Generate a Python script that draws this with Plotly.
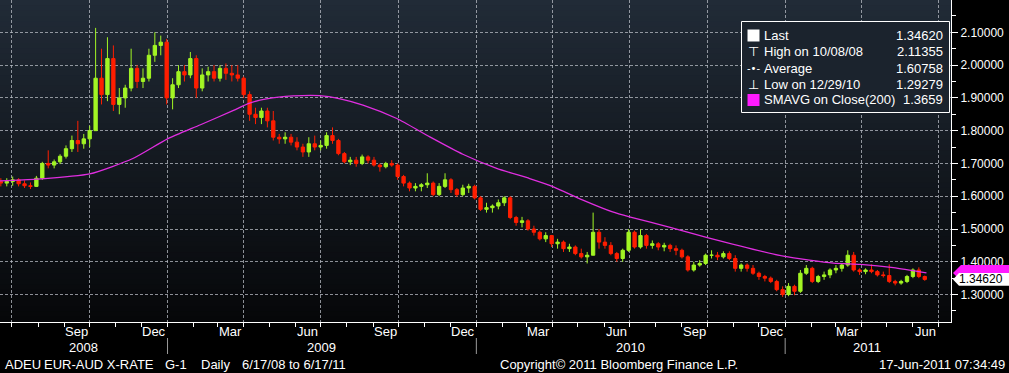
import plotly.graph_objects as go
import pandas as pd

# ---------------- data (weekly candles) ----------------
first_week = "2008-06-18"

open_ = [
    1.645, 1.640, 1.645, 1.650, 1.638, 1.632, 1.630, 1.655, 1.700, 1.695,
    1.705, 1.722, 1.745, 1.770, 1.760, 1.775, 1.800, 1.960, 1.910, 2.020,
    1.880, 1.900, 1.930, 1.990, 1.950, 1.960, 2.030, 2.060, 2.070, 1.900,
    1.940, 1.980, 1.970, 2.020, 1.930, 1.970, 1.980, 1.960, 1.990,
    1.975, 1.970, 1.960, 1.910, 1.850, 1.840, 1.860, 1.830, 1.780, 1.775,
    1.780, 1.765, 1.750, 1.735, 1.760, 1.750, 1.755, 1.785, 1.770, 1.730,
    1.705, 1.710, 1.700, 1.720, 1.710, 1.695, 1.690, 1.700, 1.695, 1.660,
    1.640, 1.625, 1.630, 1.635, 1.640, 1.605, 1.630, 1.650, 1.620, 1.605,
    1.625, 1.630, 1.595, 1.560, 1.565, 1.570, 1.580, 1.595, 1.535, 1.520,
    1.525, 1.500, 1.490, 1.470, 1.480, 1.455, 1.460, 1.440, 1.445, 1.425,
    1.415, 1.420, 1.490, 1.460, 1.450, 1.425, 1.410, 1.435, 1.490, 1.445,
    1.480, 1.450, 1.455, 1.445,
    1.450, 1.440, 1.435, 1.415, 1.375, 1.390, 1.395, 1.420, 1.420, 1.415,
    1.425, 1.410, 1.380, 1.390, 1.380, 1.365, 1.355, 1.350, 1.340, 1.315,
    1.300, 1.325, 1.310, 1.365, 1.380, 1.340, 1.355, 1.360, 1.375, 1.380,
    1.390, 1.420, 1.375, 1.370, 1.375, 1.370, 1.360, 1.358, 1.340, 1.335,
    1.340, 1.355, 1.375, 1.355,
]
high = [
    1.655, 1.655, 1.660, 1.655, 1.648, 1.642, 1.662, 1.705, 1.740, 1.712,
    1.728, 1.755, 1.785, 1.830, 1.790, 1.815, 2.11355, 2.050, 2.085, 2.060,
    1.930, 1.940, 2.050, 2.000, 1.990, 2.050, 2.100, 2.090, 2.080, 1.960,
    2.000, 2.000, 2.040, 2.030, 1.990, 1.995, 2.000, 2.000, 2.005,
    2.000, 2.000, 1.965, 1.920, 1.870, 1.870, 1.870, 1.860, 1.790, 1.795,
    1.790, 1.780, 1.760, 1.780, 1.785, 1.770, 1.795, 1.810, 1.775, 1.735,
    1.720, 1.720, 1.727, 1.725, 1.720, 1.700, 1.705, 1.710, 1.700, 1.665,
    1.645, 1.640, 1.640, 1.670, 1.645, 1.640, 1.670, 1.655, 1.625, 1.635,
    1.638, 1.635, 1.600, 1.580, 1.575, 1.590, 1.600, 1.600, 1.540, 1.537,
    1.530, 1.510, 1.495, 1.490, 1.482, 1.470, 1.465, 1.455, 1.450, 1.440,
    1.430, 1.550, 1.500, 1.475, 1.460, 1.430, 1.440, 1.500, 1.495, 1.500,
    1.485, 1.465, 1.460, 1.458,
    1.455, 1.450, 1.440, 1.420, 1.400, 1.405, 1.425, 1.435, 1.430, 1.432,
    1.432, 1.420, 1.395, 1.395, 1.390, 1.370, 1.360, 1.355, 1.345, 1.325,
    1.335, 1.330, 1.375, 1.390, 1.385, 1.360, 1.370, 1.380, 1.390, 1.395,
    1.435, 1.430, 1.380, 1.380, 1.392, 1.375, 1.370, 1.392, 1.345, 1.345,
    1.360, 1.380, 1.383, 1.358,
]
low = [
    1.630, 1.630, 1.632, 1.630, 1.625, 1.622, 1.628, 1.650, 1.685, 1.685,
    1.698, 1.715, 1.735, 1.735, 1.745, 1.750, 1.800, 1.880, 1.890, 1.860,
    1.850, 1.870, 1.920, 1.930, 1.930, 1.950, 2.010, 2.030, 1.880, 1.865,
    1.930, 1.950, 1.960, 1.900, 1.920, 1.950, 1.950, 1.950, 1.955,
    1.950, 1.950, 1.900, 1.830, 1.820, 1.820, 1.810, 1.770, 1.760, 1.760,
    1.755, 1.740, 1.720, 1.720, 1.740, 1.740, 1.745, 1.760, 1.725, 1.700,
    1.695, 1.690, 1.695, 1.700, 1.690, 1.675, 1.685, 1.690, 1.650, 1.630,
    1.615, 1.615, 1.615, 1.625, 1.600, 1.600, 1.625, 1.610, 1.598, 1.600,
    1.610, 1.590, 1.555, 1.550, 1.550, 1.560, 1.570, 1.530, 1.510, 1.505,
    1.495, 1.480, 1.465, 1.460, 1.445, 1.440, 1.430, 1.430, 1.420, 1.410,
    1.395, 1.420, 1.440, 1.440, 1.420, 1.400, 1.400, 1.430, 1.440, 1.440,
    1.440, 1.440, 1.435, 1.432,
    1.430, 1.420, 1.410, 1.370, 1.370, 1.385, 1.390, 1.410, 1.405, 1.410,
    1.405, 1.370, 1.370, 1.370, 1.360, 1.345, 1.340, 1.335, 1.310, 1.29279,
    1.295, 1.298, 1.305, 1.360, 1.335, 1.335, 1.345, 1.350, 1.365, 1.370,
    1.385, 1.370, 1.360, 1.362, 1.365, 1.355, 1.352, 1.335, 1.328, 1.330,
    1.335, 1.350, 1.350, 1.342,
]
close = [
    1.640, 1.645, 1.650, 1.638, 1.632, 1.630, 1.655, 1.700, 1.695, 1.705,
    1.722, 1.745, 1.770, 1.760, 1.775, 1.800, 1.960, 1.910, 2.020, 1.880,
    1.900, 1.930, 1.990, 1.950, 1.960, 2.030, 2.060, 2.070, 1.900, 1.940,
    1.980, 1.970, 2.020, 1.930, 1.970, 1.980, 1.960, 1.990, 1.975,
    1.970, 1.960, 1.910, 1.850, 1.840, 1.860, 1.830, 1.780, 1.775, 1.780,
    1.765, 1.750, 1.735, 1.760, 1.750, 1.755, 1.785, 1.770, 1.730, 1.705,
    1.710, 1.700, 1.720, 1.710, 1.695, 1.690, 1.700, 1.695, 1.660, 1.640,
    1.625, 1.630, 1.635, 1.640, 1.605, 1.630, 1.650, 1.620, 1.605, 1.625,
    1.630, 1.595, 1.560, 1.565, 1.570, 1.580, 1.595, 1.535, 1.520, 1.525,
    1.500, 1.490, 1.470, 1.480, 1.455, 1.460, 1.440, 1.445, 1.425, 1.415,
    1.420, 1.490, 1.460, 1.450, 1.425, 1.410, 1.435, 1.490, 1.445, 1.480,
    1.450, 1.455, 1.445, 1.450,
    1.440, 1.435, 1.415, 1.375, 1.390, 1.395, 1.420, 1.420, 1.415, 1.425,
    1.410, 1.380, 1.390, 1.380, 1.365, 1.355, 1.350, 1.340, 1.315, 1.300,
    1.325, 1.310, 1.365, 1.380, 1.340, 1.355, 1.360, 1.375, 1.380, 1.390,
    1.420, 1.375, 1.370, 1.375, 1.370, 1.360, 1.358, 1.340, 1.335, 1.340,
    1.355, 1.375, 1.355, 1.34620,
]
weeks = pd.date_range(first_week, periods=len(close), freq="7D")

# 200-day simple moving average
sma_dates = [
    "2008-06-17", "2008-07-30", "2008-10-01", "2008-11-21", "2009-01-01",
    "2009-02-09", "2009-03-20", "2009-04-08", "2009-04-28", "2009-05-29",
    "2009-06-30", "2009-07-24", "2009-08-20", "2009-09-29", "2009-11-07",
    "2009-12-16", "2010-01-25", "2010-03-05", "2010-03-31", "2010-05-07",
    "2010-06-11", "2010-07-01", "2010-08-18", "2010-10-01", "2010-12-30",
    "2011-02-27", "2011-03-31", "2011-05-09", "2011-06-17",
]
sma_values = [
    1.647, 1.652, 1.668, 1.715, 1.775,
    1.818, 1.862, 1.884, 1.897, 1.906,
    1.907, 1.897, 1.878, 1.837, 1.781,
    1.728, 1.685, 1.654, 1.631, 1.588,
    1.552, 1.537, 1.505, 1.474, 1.417,
    1.396, 1.392, 1.382, 1.3659,
]

y_tick_values = [1.3, 1.4, 1.5, 1.6, 1.7, 1.8, 1.9, 2.0, 2.1]
y_minor_values = [1.25, 1.35, 1.45, 1.55, 1.65, 1.75, 1.85, 1.95, 2.05, 2.15]
quarter_starts = [
    "2008-07-01", "2008-10-01", "2009-01-01", "2009-04-01", "2009-07-01",
    "2009-10-01", "2010-01-01", "2010-04-01", "2010-07-01", "2010-10-01",
    "2011-01-01", "2011-04-01", "2011-07-01",
]
month_label_dates = [
    "2008-09-16", "2008-12-16", "2009-03-16", "2009-06-16",
    "2009-09-16", "2009-12-16", "2010-03-16", "2010-06-16",
    "2010-09-16", "2010-12-16", "2011-03-16", "2011-06-16",
]
month_label_text = ["Sep", "Dec", "Mar", "Jun"] * 3
year_label_dates = ["2008-09-24", "2009-07-02", "2010-07-02", "2011-04-08"]
year_label_text = ["2008", "2009", "2010", "2011"]
year_dividers = ["2009-01-01", "2010-01-01", "2011-01-01"]

legend_labels = ["Last", "High on 10/08/08", "Average", "Low on 12/29/10",
                 "SMAVG on Close(200)"]
legend_values = ["1.34620", "2.11355", "1.60758", "1.29279", "1.3659"]
last_price = 1.34620
last_sma = 1.3659

# ---------------- layout helpers ----------------
W, H = 1009, 373
PW, PH = 951, 322          # plot area size in pixels (margins l=0, t=0)
FONT = "Arial"
WHITE = "#ffffff"
GRID = "rgba(185,190,198,0.75)"


def px(x):
    return x / PW


def py(y):
    return 1 - y / PH


fig = go.Figure()

fig.add_trace(go.Candlestick(
    x=weeks, open=open_, high=high, low=low, close=close,
    increasing=dict(line=dict(color="#a2f524", width=1), fillcolor="#a2f524"),
    decreasing=dict(line=dict(color="#ff1e00", width=1), fillcolor="#ff1e00"),
    whiskerwidth=0, showlegend=False, hoverinfo="skip",
))
fig.add_trace(go.Scatter(
    x=sma_dates, y=sma_values, mode="lines",
    line=dict(color="#e02ee0", width=1.3, shape="spline", smoothing=0.6),
    showlegend=False, hoverinfo="skip",
))

shapes = []
# vertical background gradient of the plot area
bands = 60
top_c = (33, 43, 55)
bot_c = (6, 7, 9)
for k in range(bands):
    t = (k + 0.5) / bands
    c = tuple(round(bot_c[i] + (top_c[i] - bot_c[i]) * t) for i in range(3))
    shapes.append(dict(
        type="rect", xref="paper", yref="paper", x0=0, x1=1,
        y0=k / bands, y1=min(1, (k + 1) / bands + 0.003),
        fillcolor=f"rgb{c}", line=dict(width=0), layer="below",
    ))

# year dividers under the month labels
for d in year_dividers:
    shapes.append(dict(type="line", xref="x", yref="paper", x0=d, x1=d,
                       y0=py(338), y1=py(354),
                       line=dict(color="#9a9a9a", width=1)))

# legend box
shapes.append(dict(type="rect", xref="paper", yref="paper",
                   x0=px(741.5), x1=px(949.5), y0=py(112.5), y1=py(21.5),
                   fillcolor="#1b232d", line=dict(color=WHITE, width=1),
                   layer="above"))
shapes.append(dict(type="rect", xref="paper", yref="paper",
                   x0=px(747.5), x1=px(759.5), y0=py(41.5), y1=py(29.5),
                   fillcolor=WHITE, line=dict(width=0), layer="above"))
shapes.append(dict(type="rect", xref="paper", yref="paper",
                   x0=px(747.5), x1=px(759.5), y0=py(106), y1=py(94),
                   fillcolor="#ff1aff", line=dict(width=0), layer="above"))

# right-edge value tags
hh = 0.0245
shapes.append(dict(
    type="path", xref="paper", yref="y", layer="above",
    path=(f"M {px(953)},{last_sma} L {px(961)},{last_sma + hh} "
          f"L {px(1012)},{last_sma + hh} L {px(1012)},{last_sma - hh} "
          f"L {px(961)},{last_sma - hh} Z"),
    fillcolor="#ff1aff", line=dict(width=0)))
hw = 0.0195
shapes.append(dict(
    type="path", xref="paper", yref="y", layer="above",
    path=(f"M {px(953)},{last_price} L {px(959)},{last_price + hw} "
          f"L {px(1012)},{last_price + hw} L {px(1012)},{last_price - hw} "
          f"L {px(959)},{last_price - hw} Z"),
    fillcolor=WHITE, line=dict(width=0)))

annotations = []
for d, t in zip(month_label_dates, month_label_text):
    annotations.append(dict(x=d, y=py(331.5), xref="x", yref="paper", text=t,
                            showarrow=False, xanchor="center", yanchor="middle",
                            font=dict(family=FONT, size=13, color=WHITE)))
for d, t in zip(year_label_dates, year_label_text):
    annotations.append(dict(x=d, y=py(347), xref="x", yref="paper", text=t,
                            showarrow=False, xanchor="center", yanchor="middle",
                            font=dict(family=FONT, size=13, color=WHITE)))

# legend rows
row_y = [35.7, 51.7, 68.3, 84.3, 100]
for yy, lab, val in zip(row_y, legend_labels, legend_values):
    annotations.append(dict(x=px(762), y=py(yy), xref="paper", yref="paper",
                            text=lab, showarrow=False, xanchor="left",
                            yanchor="middle",
                            font=dict(family=FONT, size=13, color=WHITE)))
    annotations.append(dict(x=px(945), y=py(yy), xref="paper", yref="paper",
                            text=val, showarrow=False, xanchor="right",
                            yanchor="middle",
                            font=dict(family=FONT, size=13, color=WHITE)))
for yy, sym, sz in [(51.7, "⊤", 13), (68.3, "-•-", 10), (84.3, "⊥", 13)]:
    annotations.append(dict(x=px(753.5), y=py(yy), xref="paper", yref="paper",
                            text=sym, showarrow=False, xanchor="center",
                            yanchor="middle",
                            font=dict(family="DejaVu Sans", size=sz, color=WHITE)))

# last price text on the tag
annotations.append(dict(x=px(957), y=last_price, xref="paper", yref="y",
                        text=f"{last_price:.5f}", showarrow=False,
                        xanchor="left", yanchor="middle",
                        font=dict(family=FONT, size=12, color="#000000")))

# footer
footer = [(2.5, "ADEU"), (41.5, "EUR-AUD X-RATE"), (163, "G-1"),
          (199, "Daily"), (239.5, "6/17/08 to 6/17/11"),
          (497.5, "Copyright© 2011 Bloomberg Finance L.P.")]
for xx, t in footer:
    annotations.append(dict(x=px(xx), y=py(364), xref="paper", yref="paper",
                            text=t, showarrow=False, xanchor="left",
                            yanchor="middle",
                            font=dict(family=FONT, size=13, color=WHITE)))
annotations.append(dict(x=px(1007), y=py(364), xref="paper", yref="paper",
                        text="17-Jun-2011 07:34:49", showarrow=False,
                        xanchor="right", yanchor="middle",
                        font=dict(family=FONT, size=13, color=WHITE)))

fig.update_layout(
    width=W, height=H, autosize=False,
    margin=dict(l=0, r=W - PW, t=0, b=H - PH, pad=0),
    paper_bgcolor="#000000", plot_bgcolor="rgba(0,0,0,0)",
    showlegend=False, boxgap=0.2, hovermode=False,
    shapes=shapes, annotations=annotations,
    xaxis=dict(
        type="date", range=["2008-06-17", "2011-07-16"],
        tickmode="array", tickvals=quarter_starts, showticklabels=False,
        ticks="outside", ticklen=4, tickcolor=WHITE, tickwidth=1,
        showgrid=True, gridcolor=GRID, griddash="3px,2px", gridwidth=1,
        showline=True, linecolor=WHITE, linewidth=1, zeroline=False,
        rangeslider=dict(visible=False), fixedrange=True,
        minor=dict(dtick="M1", tick0="2008-07-01", ticks="outside",
                   ticklen=4, tickcolor=WHITE, tickwidth=1, showgrid=False),
    ),
    yaxis=dict(
        side="right", range=[1.2163, 2.1986],
        tickmode="array", tickvals=y_tick_values,
        ticktext=[f"{v:.5f}" for v in y_tick_values],
        ticks="outside", ticklen=6, tickcolor=WHITE, tickwidth=1,
        tickfont=dict(family=FONT, size=12, color=WHITE),
        showgrid=True, gridcolor=GRID, griddash="3px,2px", gridwidth=1,
        showline=True, linecolor=WHITE, linewidth=1, zeroline=False,
        fixedrange=True,
        minor=dict(tickmode="array", tickvals=y_minor_values,
                   ticks="outside", ticklen=4, tickcolor=WHITE,
                   tickwidth=1, showgrid=False),
    ),
)

fig.write_html(
    "out.html",
    config={"displayModeBar": False, "staticPlot": True},
    post_script="document.body.style.margin='0';document.body.style.background='#000';",
)
